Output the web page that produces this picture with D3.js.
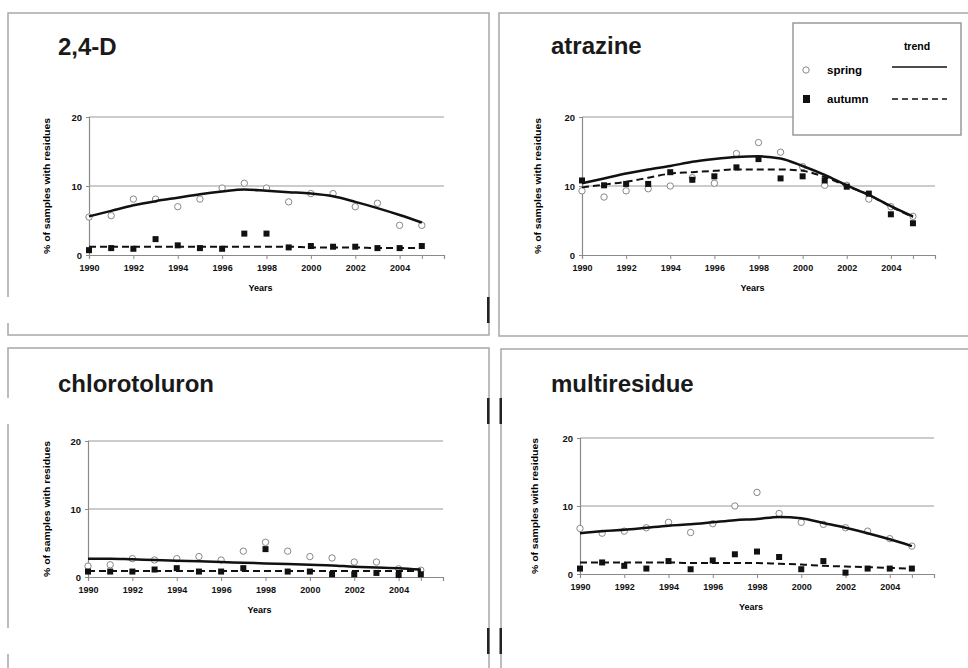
<!DOCTYPE html>
<html lang="en">
<head>
  <meta charset="UTF-8">
  <title>Herbicide residues, spring and autumn</title>
  <script src="https://d3js.org/d3.v7.min.js"></script>
  <style>
    body { margin: 0; background: #fff; font-family: "Liberation Sans", Arial, sans-serif; }
    svg { display: block; }
    .tick text { font-weight: bold; fill: #111; }
  </style>
</head>
<body>
  <svg width="968" height="668"></svg>

  <script>
    // years sampled
    const years = [1990, 1991, 1992, 1993, 1994, 1995, 1996, 1997, 1998, 1999, 2000, 2001, 2002, 2003, 2004, 2005];
    const xTicks = [1990, 1992, 1994, 1996, 1998, 2000, 2002, 2004, 2005, 2006];
    const xLabels = [1990, 1992, 1994, 1996, 1998, 2000, 2002, 2004];
    const yTicks = [0, 10, 20];

    // 2,4-D
    const d24Spring = [5.5, 5.7, 8.1, 8.1, 7.0, 8.1, 9.7, 10.4, 9.7, 7.7, 8.9, 8.9, 7.0, 7.5, 4.3, 4.3];
    const d24Autumn = [0.7, 1.0, 0.9, 2.3, 1.4, 1.0, 0.9, 3.1, 3.1, 1.1, 1.3, 1.2, 1.2, 1.0, 1.0, 1.3];
    const d24SpringTrend = [5.6, 6.4, 7.2, 7.8, 8.3, 8.8, 9.2, 9.5, 9.3, 9.1, 8.9, 8.5, 7.7, 6.8, 5.8, 4.7];
    const d24AutumnTrend = [1.2, 1.2, 1.2, 1.2, 1.2, 1.2, 1.2, 1.2, 1.2, 1.2, 1.1, 1.1, 1.1, 1.0, 1.0, 1.0];

    // atrazine
    const atrSpring = [9.3, 8.4, 9.3, 9.6, 10.0, 11.2, 10.4, 14.7, 16.3, 14.9, 12.8, 10.1, 10.1, 8.1, 7.0, 5.6];
    const atrAutumn = [10.8, 10.1, 10.3, 10.3, 12.0, 10.9, 11.4, 12.7, 13.9, 11.1, 11.4, 10.8, 9.9, 8.9, 5.9, 4.6];
    const atrSpringTrend = [10.4, 11.1, 11.8, 12.4, 12.9, 13.5, 13.9, 14.2, 14.3, 14.0, 12.9, 11.6, 10.1, 8.7, 7.1, 5.6];
    const atrAutumnTrend = [9.8, 10.2, 10.6, 11.2, 11.8, 12.0, 12.2, 12.4, 12.4, 12.4, 12.2, 11.3, 10.0, 8.7, 7.0, 5.5];

    // chlorotoluron
    const chlSpring = [1.6, 1.8, 2.7, 2.5, 2.7, 3.0, 2.5, 3.8, 5.1, 3.8, 3.0, 2.8, 2.2, 2.2, 1.2, 1.0];
    const chlAutumn = [0.8, 0.8, 0.8, 1.1, 1.3, 0.8, 0.8, 1.3, 4.1, 0.8, 0.8, 0.4, 0.4, 0.6, 0.3, 0.4];
    const chlSpringTrend = [2.7, 2.7, 2.6, 2.5, 2.4, 2.3, 2.2, 2.1, 2.0, 1.9, 1.8, 1.7, 1.5, 1.4, 1.3, 1.1];
    const chlAutumnTrend = [0.9, 0.9, 0.9, 0.9, 0.9, 0.9, 0.9, 0.9, 0.9, 0.9, 0.9, 0.9, 0.9, 0.9, 0.9, 0.9];

    // multiresidue
    const mulSpring = [6.7, 6.0, 6.3, 6.8, 7.6, 6.1, 7.4, 10.0, 12.0, 8.9, 7.6, 7.3, 6.8, 6.3, 5.2, 4.1];
    const mulAutumn = [0.8, 1.7, 1.2, 0.8, 1.9, 0.7, 2.0, 2.9, 3.3, 2.5, 0.7, 1.9, 0.2, 0.8, 0.8, 0.8];
    const mulSpringTrend = [6.0, 6.3, 6.5, 6.8, 7.1, 7.3, 7.6, 7.9, 8.1, 8.4, 8.2, 7.5, 6.8, 6.0, 5.1, 4.1];
    const mulAutumnTrend = [1.7, 1.7, 1.7, 1.7, 1.7, 1.6, 1.6, 1.6, 1.6, 1.5, 1.4, 1.2, 1.1, 1.0, 0.9, 0.8];

    const titles = ["2,4-D", "atrazine", "chlorotoluron", "multiresidue"];

    // layout of each scanned panel
    const panels = [
      { title: titles[0], spring: d24Spring, autumn: d24Autumn, sTrend: d24SpringTrend, aTrend: d24AutumnTrend,
        box: [8, 13, 481, 322], plot: { x0: 89, x1: 444, yBot: 255, yTop: 117 }, tx: 58, ty: 55, lx: 50 },
      { title: titles[1], spring: atrSpring, autumn: atrAutumn, sTrend: atrSpringTrend, aTrend: atrAutumnTrend,
        box: [499, 13, 480, 323], plot: { x0: 582, x1: 935, yBot: 255, yTop: 117 }, tx: 551, ty: 54, lx: 541 },
      { title: titles[2], spring: chlSpring, autumn: chlAutumn, sTrend: chlSpringTrend, aTrend: chlAutumnTrend,
        box: [8, 348, 481, 340], plot: { x0: 88, x1: 443, yBot: 577, yTop: 441 }, tx: 58, ty: 392, lx: 50 },
      { title: titles[3], spring: mulSpring, autumn: mulAutumn, sTrend: mulSpringTrend, aTrend: mulAutumnTrend,
        box: [501, 349, 480, 340], plot: { x0: 580, x1: 934, yBot: 574, yTop: 438 }, tx: 551, ty: 392, lx: 538 }
    ];

    const svg = d3.select("svg");

    panels.forEach(p => {
      const g = svg.append("g");
      const [bx, by, bw, bh] = p.box;
      g.append("rect")
        .attr("x", bx).attr("y", by).attr("width", bw).attr("height", bh)
        .attr("fill", "#fff").attr("stroke", "#a8a8a8").attr("stroke-width", 1.5);

      g.append("text")
        .attr("x", p.tx).attr("y", p.ty)
        .attr("font-size", 24).attr("font-weight", "bold").attr("fill", "#1a1a1a")
        .text(p.title);

      const x = d3.scaleLinear().domain([1990, 2006]).range([p.plot.x0, p.plot.x1]);
      const y = d3.scaleLinear().domain([0, 20]).range([p.plot.yBot, p.plot.yTop]);

      // gridlines
      g.selectAll(".grid")
        .data([10, 20])
        .join("line")
        .attr("x1", x(1990)).attr("x2", x(2006))
        .attr("y1", d => y(d)).attr("y2", d => y(d))
        .attr("stroke", "#999").attr("stroke-width", 1);

      const xAxis = g.append("g")
        .attr("transform", `translate(0,${y(0)})`)
        .call(d3.axisBottom(x).tickValues(xTicks).tickSize(4).tickPadding(6)
          .tickFormat(d => xLabels.includes(d) ? d : ""));
      xAxis.selectAll("text").attr("font-size", 9);

      const yAxis = g.append("g")
        .attr("transform", `translate(${x(1990)},0)`)
        .call(d3.axisLeft(y).tickValues(yTicks).tickSize(3).tickPadding(4));
      yAxis.selectAll("text").attr("font-size", 9.5);

      [xAxis, yAxis].forEach(a => {
        a.select(".domain").attr("stroke", "#8a8a8a").attr("stroke-width", 1.2);
        a.selectAll(".tick line").attr("stroke", "#8a8a8a");
      });

      g.append("text")
        .attr("x", (x(1990) + x(2006)) / 2 - 6).attr("y", y(0) + 36)
        .attr("text-anchor", "middle").attr("font-size", 9).attr("font-weight", "bold")
        .text("Years");

      g.append("text")
        .attr("transform", `translate(${p.lx},${(y(0) + y(20)) / 2}) rotate(-90)`)
        .attr("text-anchor", "middle").attr("font-size", 9).attr("font-weight", "bold")
        .attr("textLength", 136).attr("lengthAdjust", "spacingAndGlyphs")
        .text("% of samples with residues");

      // spring points
      g.selectAll(".spring")
        .data(years.map((yr, i) => [yr, p.spring[i]]))
        .join("circle")
        .attr("cx", d => x(d[0])).attr("cy", d => y(d[1])).attr("r", 3.2)
        .attr("fill", "#fff").attr("stroke", "#888").attr("stroke-width", 1);

      const line = d3.line()
        .x((d, i) => x(years[i])).y(d => y(d))
        .curve(d3.curveMonotoneX);

      g.append("path").datum(p.sTrend)
        .attr("d", line).attr("fill", "none")
        .attr("stroke", "#111").attr("stroke-width", 2.5);

      g.append("path").datum(p.aTrend)
        .attr("d", line).attr("fill", "none")
        .attr("stroke", "#111").attr("stroke-width", 2)
        .attr("stroke-dasharray", "7,4");

      // autumn points
      g.selectAll(".autumn")
        .data(years.map((yr, i) => [yr, p.autumn[i]]))
        .join("rect")
        .attr("x", d => x(d[0]) - 3).attr("y", d => y(d[1]) - 3)
        .attr("width", 6).attr("height", 6)
        .attr("fill", "#111");
    });

    // legend (atrazine panel)
    const leg = svg.append("g");
    leg.append("rect")
      .attr("x", 793).attr("y", 23).attr("width", 168).attr("height", 112)
      .attr("fill", "#fff").attr("stroke", "#999").attr("stroke-width", 1.5);
    leg.append("text").attr("x", 917).attr("y", 50).attr("text-anchor", "middle")
      .attr("font-size", 10.5).attr("font-weight", "bold").text("trend");
    leg.append("circle").attr("cx", 806).attr("cy", 70).attr("r", 3.2)
      .attr("fill", "#fff").attr("stroke", "#888");
    leg.append("text").attr("x", 827).attr("y", 74)
      .attr("font-size", 11.5).attr("font-weight", "bold").text("spring");
    leg.append("line").attr("x1", 892).attr("x2", 947).attr("y1", 67).attr("y2", 67)
      .attr("stroke", "#111").attr("stroke-width", 1.5);
    leg.append("rect").attr("x", 803).attr("y", 95).attr("width", 7).attr("height", 8).attr("fill", "#111");
    leg.append("text").attr("x", 827).attr("y", 103)
      .attr("font-size", 11.5).attr("font-weight", "bold").text("autumn");
    leg.append("line").attr("x1", 892).attr("x2", 947).attr("y1", 99).attr("y2", 99)
      .attr("stroke", "#111").attr("stroke-width", 1.5).attr("stroke-dasharray", "6,4");

    // scan seams: white breaks in borders and dark page edges
    const seams = [[297, 323], [398, 424], [628, 654]];
    seams.forEach(([s0, s1]) => {
      svg.append("rect").attr("x", 0).attr("y", s0).attr("width", 12).attr("height", s1 - s0).attr("fill", "#fff");
      svg.append("rect").attr("x", 487).attr("y", s0).attr("width", 2.5).attr("height", s1 - s0).attr("fill", "#222");
    });
    [[398, 424], [628, 654]].forEach(([s0, s1]) => {
      svg.append("rect").attr("x", 499.5).attr("y", s0).attr("width", 2.5).attr("height", s1 - s0).attr("fill", "#222");
    });
  </script>
</body>
</html>
